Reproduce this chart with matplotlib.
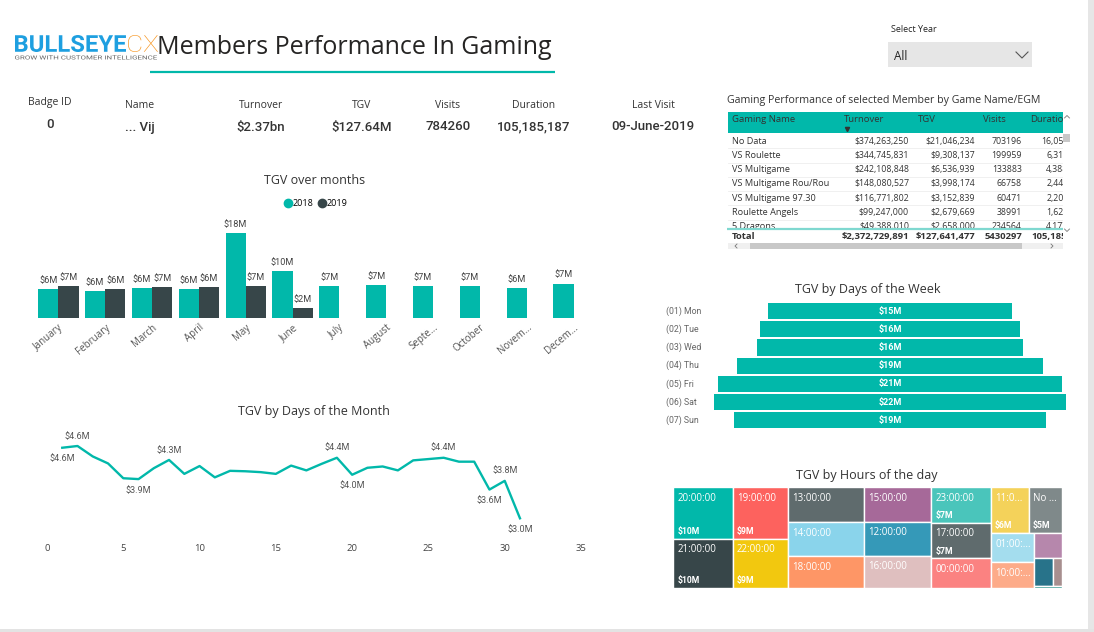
import numpy as np
import matplotlib
matplotlib.use('Agg')
import matplotlib.pyplot as plt
import matplotlib.transforms as mtransforms
from matplotlib.patches import Rectangle, PathPatch
from matplotlib.lines import Line2D
from matplotlib.textpath import TextPath
from matplotlib.font_manager import FontProperties

plt.rcParams['font.family'] = ['Open Sans', 'DejaVu Sans']

W, H = 1094, 632
TEAL = '#01B8AA'
DARK = '#374649'
TXT = '#333333'
NUM = ['Roboto', 'DejaVu Sans']

# KPI cards
kpi_labels = ['Badge ID', 'Name', 'Turnover', 'TGV', 'Visits', 'Duration', 'Last Visit']
kpi_values = ['0', '... Vij', '$2.37bn', '$127.64M', '784260', '105,185,187', '09-June-2019']

# TGV over months ($M)
months = ['January', 'February', 'March', 'April', 'May', 'June', 'July',
          'August', 'Septe...', 'October', 'Novem...', 'Decem...']
tgv_2018 = [6.1, 5.65, 6.35, 6.05, 18.0, 9.95, 6.7, 6.9, 6.7, 6.7, 6.3, 7.3]
tgv_2019 = [6.7, 6.1, 6.52, 6.48, 6.7, 2.1]

# TGV by day of month ($M)
days = list(range(1, 32))
tgv_day = [4.60, 4.64, 4.40, 4.24, 3.90, 3.88, 4.13, 4.32, 4.00, 4.18, 3.92, 4.07,
           4.06, 4.04, 4.00, 4.19, 4.08, 4.23, 4.37, 3.98, 4.14, 4.17, 4.08, 4.31,
           4.34, 4.37, 4.28, 4.28, 3.64, 3.84, 2.98]
day_label_days = [1, 2, 6, 8, 19, 20, 26, 29, 30, 31]
day_label_side = ['below', 'above', 'below', 'above', 'above', 'below', 'above', 'below', 'above', 'below']

# TGV by day of week ($M)
weekdays = ['(01) Mon', '(02) Tue', '(03) Wed', '(04) Thu', '(05) Fri', '(06) Sat', '(07) Sun']
tgv_week = [15.0, 15.9, 16.3, 18.8, 21.1, 21.6, 19.1]

# TGV by hour of day ($M), sorted as in the treemap
hour_names = ['20:00:00', '21:00:00', '19:00:00', '22:00:00', '13:00:00', '14:00:00', '18:00:00',
              '15:00:00', '12:00:00', '16:00:00', '23:00:00', '17:00:00', '00:00:00', '11:0...',
              'No ...', '01:00:...', '10:00:...', '', '', '', '']
hour_tgv = [10.0, 9.6, 9.3, 8.8, 8.65, 8.4, 7.9, 7.5, 7.3, 7.0, 6.95, 6.9, 5.75, 5.7,
            4.95, 4.05, 3.65, 2.2, 1.7, 0.85, 0.18]
hour_show_value = [True, True, True, True, False, False, False, False, False, False, True, True,
                   False, True, True, False, False, False, False, False, False]
hour_colors = ['#01B8AA', '#374649', '#FD625E', '#F2C80F', '#5F6B6D', '#8AD4EB', '#FE9666',
               '#A66999', '#3599B8', '#DFBFBF', '#4AC5BB', '#5F6B6D', '#FB8281', '#F4D25A',
               '#7F898A', '#A4DDEE', '#FDAB89', '#B687AC', '#28738A', '#A78F8F', '#168980']

# Game table
table_cols = ['Gaming Name', 'Turnover', 'TGV', 'Visits', 'Duration']
game_names = ['No Data', 'VS Roulette', 'VS Multigame', 'VS Multigame Rou/Rou',
              'VS Multigame 97.30', 'Roulette Angels', '5 Dragons']
game_turnover = [374263250, 344745831, 242108848, 148080527, 116771802, 99247000, 49388010]
game_tgv = [21046234, 9308137, 6536939, 3998174, 3152839, 2679669, 2658000]
game_visits = [703196, 199959, 133883, 66758, 60471, 38991, 234564]
game_duration = [16058312, 6315427, 4388105, 2442761, 2207334, 1628915, 4177208]
total_row = [2372729891, 127641477, 5430297, 105185187]


fig = plt.figure(figsize=(W / 100, H / 100), dpi=100)
fig.patch.set_facecolor('white')


def px_axes(x, y, w, h):
    a = fig.add_axes([x / W, 1 - (y + h) / H, w / W, h / H])
    a.set_facecolor('none')
    return a


def fitted_text(ax, s, x0, x1, y_top, y_bot, color, family='Roboto', weight='normal'):
    # text stretched to a box, like the logo artwork
    tp = TextPath((0, 0), s, size=1, prop=FontProperties(family=family, weight=weight))
    ext = tp.get_extents()
    sx = (x1 - x0) / ext.width
    sy = (y_bot - y_top) / ext.height
    tr = mtransforms.Affine2D().translate(-ext.x0, -ext.y0).scale(sx, -sy).translate(x0, y_bot)
    ax.add_patch(PathPatch(tr.transform_path(tp), color=color, lw=0))


def squarify(values, x0, y0, x1, y1, ratio=(1 + 5 ** 0.5) / 2):
    # squarified treemap, same rule as d3.treemapSquarify
    rects = []
    total = float(sum(values))
    n = len(values)
    i0 = 0
    while i0 < n:
        dx, dy = x1 - x0, y1 - y0
        s = vmin = vmax = values[i0]
        i1 = i0 + 1
        alpha = max(dy / dx, dx / dy) / (total * ratio)
        beta = s * s * alpha
        best = max(vmax / beta, beta / vmin)
        while i1 < n:
            v = values[i1]
            s2 = s + v
            lo, hi = min(vmin, v), max(vmax, v)
            beta = s2 * s2 * alpha
            r = max(hi / beta, beta / lo)
            if r > best:
                break
            best, s, vmin, vmax = r, s2, lo, hi
            i1 += 1
        row = values[i0:i1]
        if dx < dy:
            yb = y0 + dy * s / total
            xx = x0
            for v in row:
                w = dx * v / s
                rects.append((xx, y0, xx + w, yb))
                xx += w
            y0 = yb
        else:
            xb = x0 + dx * s / total
            yy = y0
            for v in row:
                h = dy * v / s
                rects.append((x0, yy, xb, yy + h))
                yy += h
            x0 = xb
        total -= s
        i0 = i1
    return rects


# background layer in pixel coordinates
bg = px_axes(0, 0, W, H)
bg.set_xlim(0, W)
bg.set_ylim(H, 0)
bg.axis('off')
bg.set_zorder(-5)

bg.add_patch(Rectangle((1088, 0), 6, 629, color='#e6e6e6', lw=0))
bg.add_patch(Rectangle((0, 629), W, 3, color='#e3e3e3', lw=0))

# logo + title
fitted_text(bg, 'BULLSEYE', 15, 126, 35, 52, '#1E9FE0', weight='bold')
fitted_text(bg, 'CX', 128, 158, 35, 52, '#F7941D', weight='light')
fitted_text(bg, 'GROW WITH CUSTOMER INTELLIGENCE', 15, 157, 55.5, 59.5, '#666666')
bg.text(157, 48, 'Members Performance In Gaming', color='#252423', fontsize=18, va='center')
bg.plot([150, 555], [72, 72], color=TEAL, lw=1.6, solid_capstyle='butt')

# KPI cards
kpi_x = [50, 140, 261, 362, 448, 534, 653]
for i, (xk, lab, val) in enumerate(zip(kpi_x, kpi_labels, kpi_values)):
    dy = -3 if i == 0 else 0
    bg.text(xk, 106 + dy, lab, ha='center', va='center', fontsize=7.5, color=TXT)
    bg.text(xk, 127 + dy, val, ha='center', va='center', fontsize=9.5, color=TXT,
            family=NUM, fontweight='medium')

# year slicer
bg.text(891, 30, 'Select Year', fontsize=6.5, color='#222', va='center')
bg.add_patch(Rectangle((888, 42), 144, 25, color='#e6e6e6', lw=0))
bg.text(894, 56, 'All', fontsize=8.5, color='#222', va='center')
bg.plot([1016, 1022, 1028], [52, 58, 52], color='#555', lw=0.8)

# ---- TGV over months
ax_m = px_axes(35, 215, 562, 103)
xm = np.arange(len(months))
x19 = np.arange(len(tgv_2019))
bars18 = ax_m.bar(xm - 0.215, tgv_2018, 0.43, color=TEAL)
bars19 = ax_m.bar(x19 + 0.215, tgv_2019, 0.43, color=DARK)
for bars, vals in [(bars18, tgv_2018), (bars19, tgv_2019)]:
    for b, v in zip(bars, vals):
        ax_m.annotate(f'${v:.0f}M', (b.get_x() + b.get_width() / 2, v), xytext=(0, 3),
                      textcoords='offset points', ha='center', va='bottom',
                      fontsize=6.6, color='#444', family=NUM)
ax_m.set_xlim(-0.5, 11.5)
ax_m.set_ylim(0, 21.8)
ax_m.set_xticks(xm)
ax_m.set_xticklabels(months, rotation=40, ha='right', rotation_mode='anchor',
                     fontsize=7, color='#555')
ax_m.set_yticks([])
ax_m.tick_params(length=0, pad=3)
for sp in ax_m.spines.values():
    sp.set_visible(False)
bg.text(315, 181, 'TGV over months', ha='center', va='center', fontsize=9, color=TXT)
handles = [Line2D([], [], marker='o', ls='', color=TEAL, markersize=6),
           Line2D([], [], marker='o', ls='', color=DARK, markersize=6)]
fig.legend(handles, ['2018', '2019'], loc='center', bbox_to_anchor=(315 / W, 1 - 204 / H),
           ncol=2, frameon=False, fontsize=6.5, handletextpad=-0.1, columnspacing=0.4,
           handlelength=1.2, borderpad=0)

# ---- TGV by days of the month
ax_d = px_axes(47, 425, 534, 112)
ax_d.plot(days, tgv_day, color=TEAL, lw=1.7)
for d, side in zip(day_label_days, day_label_side):
    v = tgv_day[d - 1]
    off = 7 if side == 'above' else -8
    ax_d.annotate(f'${v:.1f}M', (d, v), xytext=(0, off), textcoords='offset points',
                  ha='center', va='center', fontsize=6.5, color='#555', family=NUM)
ax_d.set_xlim(0, 35)
ax_d.set_ylim(2.551, 5.122)
ax_d.set_xticks(range(0, 36, 5))
ax_d.set_yticks([])
ax_d.tick_params(length=0, pad=5, labelsize=6.8, labelcolor='#444')
for sp in ax_d.spines.values():
    sp.set_visible(False)
bg.text(314, 411, 'TGV by Days of the Month', ha='center', va='center', fontsize=9, color=TXT)

# ---- TGV by days of the week (funnel)
ax_w = px_axes(714, 302, 352, 127.4)
yw = np.arange(len(weekdays))
vw = np.array(tgv_week)
ax_w.barh(yw, vw, left=-vw / 2, height=0.88, color=TEAL)
ax_w.set_ylim(len(weekdays) - 0.5, -0.5)
ax_w.set_xlim(-vw.max() / 2, vw.max() / 2)
ax_w.axis('off')
trans = mtransforms.blended_transform_factory(fig.transFigure, ax_w.transData)
for i, (name, v) in enumerate(zip(weekdays, tgv_week)):
    ax_w.text(0, i, f'${v:.0f}M', ha='center', va='center', color='white',
              fontsize=6.5, fontweight='bold', family=NUM)
    ax_w.text(666 / W, i, name, transform=trans, ha='left', va='center',
              fontsize=6.3, color='#666', family=NUM)
bg.text(868, 289, 'TGV by Days of the Week', ha='center', va='center', fontsize=9, color=TXT)

# ---- TGV by hours (treemap)
ax_t = px_axes(673, 487, 389, 101)
ax_t.set_xlim(0, 389)
ax_t.set_ylim(101, 0)
ax_t.axis('off')
for (x0, y0, x1, y1), name, v, show, c in zip(squarify(hour_tgv, 0, 0, 389, 101),
                                              hour_names, hour_tgv, hour_show_value, hour_colors):
    ax_t.add_patch(Rectangle((x0, y0), x1 - x0, y1 - y0, facecolor=c, edgecolor='white', lw=1))
    if name:
        ax_t.annotate(name, (x0, y0), xytext=(3, -4), textcoords='offset points',
                      ha='left', va='top', color='white', fontsize=7)
    if show:
        ax_t.annotate(f'${v:.0f}M', (x0, y1), xytext=(3, 2), textcoords='offset points',
                      ha='left', va='bottom', color='white', fontsize=6.2,
                      fontweight='bold', family=NUM)
bg.text(867, 475, 'TGV by Hours of the day', ha='center', va='center', fontsize=9, color=TXT)

# ---- game table
bg.text(727, 100, 'Gaming Performance of selected Member by Game Name/EGM',
        va='center', fontsize=7.7, color=TXT)
tab = px_axes(727, 111, 336, 132)
tab.set_xlim(727, 1063)
tab.set_ylim(243, 111)
tab.axis('off')
tab.add_patch(Rectangle((728, 112), 335, 21, color=TEAL, lw=0))
head_x = [732, 844, 918, 983, 1030]
for hx, col in zip(head_x, table_cols):
    tab.text(hx, 119.5, col, va='center', fontsize=6.8, color=TXT, clip_on=True)
tab.plot([847], [128.5], marker='v', color=TXT, markersize=3)
body = Rectangle((727, 134), 336, 94, transform=tab.transData, fill=False, lw=0)
tab.add_patch(body)
num_right = [909, 975, 1022, 1086]
row_h = 14.3
for r, name in enumerate(game_names):
    yr = 141 + r * row_h
    cells = [f'${game_turnover[r]:,}', f'${game_tgv[r]:,}', f'{game_visits[r]}',
             f'{game_duration[r]:,}']
    t = tab.text(732, yr, name, va='center', fontsize=6.6, color=TXT, clip_on=True)
    t.set_clip_path(body)
    for xr, cell in zip(num_right, cells):
        t = tab.text(xr, yr, cell, va='center', ha='right', fontsize=6.3, color=TXT,
                     clip_on=True)
        t.set_clip_path(body)
    if r < len(game_names) - 1:
        tab.plot([728, 1063], [yr + 7.2, yr + 7.2], color='#eeeeee', lw=0.6)
tab.plot([728, 1063], [228.5, 228.5], color='#7fd8d0', lw=1.6)
tot = [f'${total_row[0]:,}', f'${total_row[1]:,}', f'{total_row[2]}', f'{total_row[3]:,}']
tab.text(732, 236, 'Total', va='center', fontsize=6.8, color=TXT, fontweight='bold', clip_on=True)
for xr, cell in zip(num_right, tot):
    tab.text(xr, 236, cell, va='center', ha='right', fontsize=6.8, color=TXT,
             fontweight='bold', clip_on=True)

# table scrollbars
bg.add_patch(Rectangle((1063, 134), 7, 8, color='#c8c8c8', lw=0))
bg.plot([1064.5, 1067, 1069.5], [118, 115.5, 118], color='#777', lw=0.6)
bg.plot([1064.5, 1067, 1069.5], [229, 231.5, 229], color='#777', lw=0.6)
bg.add_patch(Rectangle((728, 243), 335, 6, color='#f0f0f0', lw=0))
bg.add_patch(Rectangle((750, 243), 272, 6, color='#c8c8c8', lw=0))
bg.plot([737, 735, 737], [244, 246, 248], color='#777', lw=0.6)
bg.plot([1051, 1053, 1051], [244, 246, 248], color='#777', lw=0.6)

fig.savefig('out.png', dpi=100, facecolor='white')
